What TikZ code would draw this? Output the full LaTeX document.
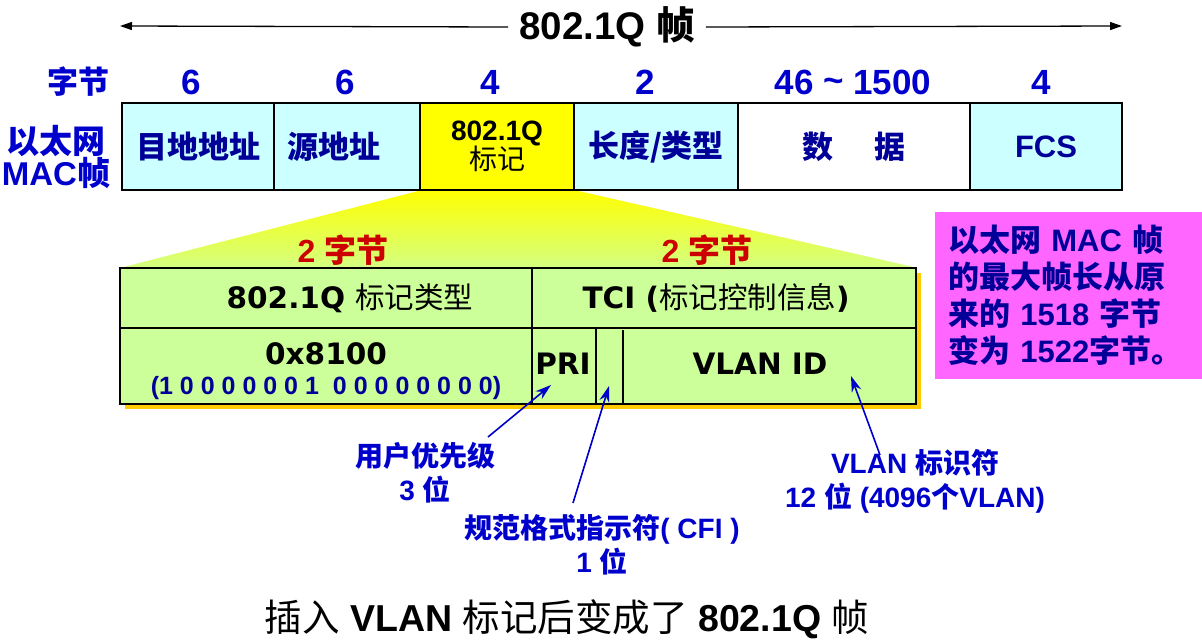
\documentclass[tikz,border=0pt]{standalone}
\usepackage{fontspec}
\setmainfont{Liberation Sans}
\newfontfamily\verd{DejaVu Sans}
\newfontfamily\cjk{Noto Sans CJK SC}
\usetikzlibrary{arrows.meta,shadows}
\definecolor{cyanc}{HTML}{CCFFFF}
\definecolor{yelc}{HTML}{FFFF00}
\definecolor{greenc}{HTML}{CCFF99}
\definecolor{shadc}{HTML}{FFCC00}
\definecolor{magc}{HTML}{FF66FF}
\definecolor{bluec}{HTML}{0000CC}
\definecolor{navyc}{HTML}{000099}
\definecolor{redc}{HTML}{CC0000}
\newcommand\zh[1]{{\cjk #1}}
\newcommand\zhr[1]{{\cjk\mdseries #1}}
\begin{document}
\begin{tikzpicture}[x=1pt,y=-1pt,
  cell/.style={draw=black,line width=2.5pt,inner sep=0pt,minimum height=87pt},
  toptxt/.style={text=navyc,font=\fontsize{31}{36}\selectfont\bfseries},
  numtxt/.style={text=bluec,font=\fontsize{35}{40}\selectfont\bfseries},
  lowtxt/.style={font=\fontsize{29.5}{32}\selectfont\bfseries\verd,inner sep=0pt},
  redtxt/.style={text=redc,font=\fontsize{32}{36}\selectfont\bfseries},
  lbltxt/.style={text=bluec,font=\fontsize{28}{34}\selectfont\bfseries,align=center,inner sep=0pt},
  barr/.style={draw=bluec,line width=1.6pt,-{Stealth[length=16pt,width=10pt]}},
  tarr/.style={line width=1.3pt,-{Triangle[length=12pt,width=8pt]}},
  dline/.style={line width=2.5pt}]
\useasboundingbox (0,0) rectangle (1202,643);

% title
\node[font=\fontsize{38.5}{42}\selectfont\bfseries,inner sep=0pt] (title) at (607,27) {802.1Q \zh{帧}};
\coordinate (lt) at (120,26);
\coordinate (rt) at (1122,26);
\draw[tarr] ([xshift=-11pt]title.west) -- (lt);
\draw[tarr] ([xshift=11pt]title.east) -- (rt);

% byte counts
\node[text=bluec,font=\fontsize{31}{36}\selectfont\bfseries] (zj) at (78,82) {\zh{字节}};
\node[numtxt] (n1) at (191,82) {6};
\node[numtxt] (n2) at (345,82) {6};
\node[numtxt] (n3) at (490,82) {4};
\node[numtxt] (n4) at (645,82) {2};
\node[numtxt] (n5) at (853,82) {46 \raisebox{2pt}{\textasciitilde} 1500};
\node[numtxt] (n6) at (1041,82) {4};

% left label
\node[text=bluec,font=\fontsize{33}{32}\selectfont\bfseries,align=center] (mac) at (56,157) {\zh{以太网}\\MAC\zh{帧}};

% trapezoid
\shade[top color=yelc,bottom color=greenc!85!yelc] (422,190) -- (574,190) -- (918,268) -- (120,268) -- cycle;

% top frame
\node[cell,fill=cyanc,minimum width=152pt,toptxt] (dst) at (198,146.5) {\zh{目地地址}};
\node[cell,fill=cyanc,minimum width=146pt,toptxt] (src) at (347,146.5) {\hspace*{-26pt}\zh{源地址}};
\node[cell,fill=yelc,minimum width=154pt,align=center,font=\fontsize{28}{31}\selectfont\bfseries] (tag) at (497,146.5) {802.1Q\\[-2pt]{\fontsize{28}{31}\selectfont\zhr{标记}}};
\node[cell,fill=cyanc,minimum width=164pt,toptxt] (len) at (656,146.5) {\zh{长度/类型}};
\node[cell,fill=white,minimum width=232pt,toptxt] (data) at (854,146.5) {\zh{数}\hspace{42pt}\zh{据}};
\node[cell,fill=cyanc,minimum width=152pt,toptxt] (fcs) at (1046,146.5) {FCS};

% lower frame
\node[redtxt] (b1) at (343,250) {2 \zh{字节}};
\node[redtxt] (b2) at (707,250) {2 \zh{字节}};
\node[draw=black,line width=2.5pt,fill=greenc,minimum width=796pt,minimum height=136pt,inner sep=0pt,
  drop shadow={shadow xshift=5pt,shadow yshift=-5pt,fill=shadc,opacity=1}] (low) at (518,336) {};
\draw[dline] (120,328) -- (916,328);
\draw[dline] (532,268) -- (532,404);
\draw[dline] (596,328) -- (596,404);
\draw[line width=1.2pt] (623,330) -- (623,404);

\node[lowtxt] (tt) at (350,298) {802.1Q \zhr{标记类型}};
\node[lowtxt] (tci) at (716,298) {TCI (\zhr{标记控制信息})};
\node[lowtxt] (hex) at (326,354) {0x8100};
\node[text=navyc,font=\fontsize{25}{28}\selectfont\bfseries,inner sep=0pt] (bits) at (326,388) {(1 0 0 0 0 0 0 1\hspace{14pt}0 0 0 0 0 0 0 0)};
\node[lowtxt] (pri) at (563,364) {PRI};
\node[lowtxt] (vid) at (760,364) {VLAN ID};

% note
\node[fill=magc,minimum width=267pt,minimum height=167pt,inner xsep=13pt,text width=241pt,align=left,
  text=navyc,font=\fontsize{31}{37}\selectfont\bfseries] (note) at (1068.5,295.5)
  {\zh{以太网} MAC \zh{帧}\\\zh{的最大帧长从原}\\\zh{来的} 1518 \zh{字节}\\\zh{变为} 1522\zh{字节。}};

% labels
\node[lbltxt] (pril) at (425,473) {\zh{用户优先级}\\3 \zh{位}};
\node[lbltxt] (cfil) at (602,545) {\zh{规范格式指示符}( CFI )\\1 \zh{位}};
\node[lbltxt] (vlanl) at (915,481) {VLAN \zh{标识符}\\12 \zh{位} (4096\zh{个}VLAN)};

\coordinate (pris) at (488,437);
\coordinate (prit) at (551,385);
\coordinate (cfis) at (573,503);
\coordinate (cfit) at (609,386);
\coordinate (vids) at (880,455);
\coordinate (vidt) at (851,376);
\draw[barr] (pris) -- (prit);
\draw[barr] (cfis) -- (cfit);
\draw[barr] (vids) -- (vidt);

% caption
\node[font=\fontsize{37.5}{42}\selectfont\bfseries,inner sep=0pt] (cap) at (567,619) {\zhr{插入} VLAN \zhr{标记后变成了} 802.1Q \zhr{帧}};
\end{tikzpicture}
\end{document}
